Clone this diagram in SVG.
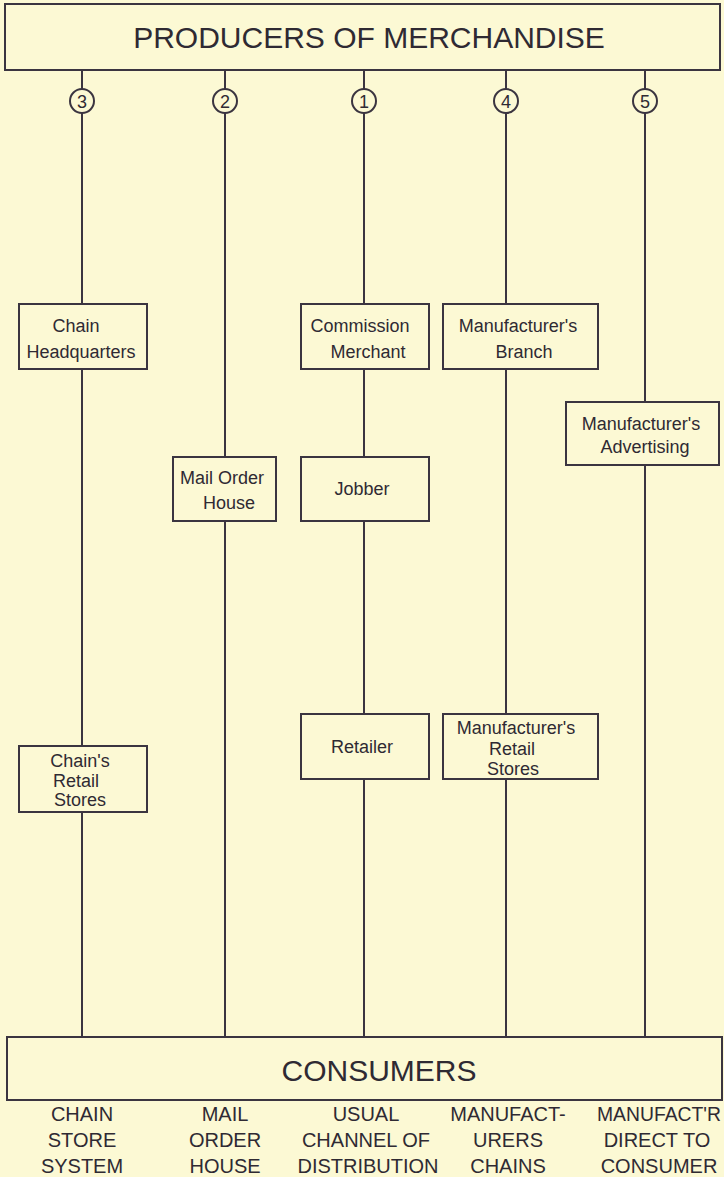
<svg xmlns="http://www.w3.org/2000/svg" width="724" height="1177" viewBox="0 0 724 1177">
<style>
.bg{fill:#fcf9d4}
.box{fill:#fcf9d4;stroke:#3b3540;stroke-width:2}
.ln{stroke:#3b3540;stroke-width:2;fill:none}
.t{font-family:"Liberation Sans",Arial,sans-serif;fill:#2f2a33;text-anchor:middle}
.bt{font-size:18px}
.big{font-size:30px}
.lab{font-size:20px}
.num{font-size:18px}
</style>
<rect class="bg" x="0" y="0" width="724" height="1177"/>
<g id="producers">
<rect class="box" x="5" y="4" width="715" height="66"/>
<text class="t big" x="369" y="48">PRODUCERS OF MERCHANDISE</text>
</g>
<g id="consumers">
<rect class="box" x="7" y="1037" width="715" height="63"/>
<text class="t big" x="379" y="1081">CONSUMERS</text>
</g>
<g id="connectors">
<path class="ln" d="M82 70V89M82 113V304M82 369V746M82 812V1037"/>
<path class="ln" d="M225 70V89M225 113V457M225 521V1037"/>
<path class="ln" d="M364 70V89M364 113V304M364 369V457M364 521V714M364 779V1037"/>
<path class="ln" d="M506 70V89M506 113V304M506 369V714M506 779V1037"/>
<path class="ln" d="M645 70V89M645 113V402M645 465V1037"/>
</g>
<g id="n3"><circle class="box" cx="82" cy="101" r="12"/><text class="t num" x="82" y="107.5">3</text></g>
<g id="n2"><circle class="box" cx="225" cy="101" r="12"/><text class="t num" x="225" y="107.5">2</text></g>
<g id="n1"><circle class="box" cx="364" cy="101" r="12"/><text class="t num" x="364" y="107.5">1</text></g>
<g id="n4"><circle class="box" cx="506" cy="101" r="12"/><text class="t num" x="506" y="107.5">4</text></g>
<g id="n5"><circle class="box" cx="645" cy="101" r="12"/><text class="t num" x="645" y="107.5">5</text></g>
<g id="chain-hq"><rect class="box" x="19" y="304" width="128" height="65"/>
<text class="t bt" x="76" y="332">Chain</text><text class="t bt" x="81" y="358">Headquarters</text></g>
<g id="commission"><rect class="box" x="301" y="304" width="128" height="65"/>
<text class="t bt" x="360" y="332">Commission</text><text class="t bt" x="368" y="358">Merchant</text></g>
<g id="mfr-branch"><rect class="box" x="443" y="304" width="155" height="65"/>
<text class="t bt" x="518" y="332">Manufacturer's</text><text class="t bt" x="524" y="358">Branch</text></g>
<g id="mfr-adv"><rect class="box" x="566" y="402" width="153" height="63"/>
<text class="t bt" x="641" y="430">Manufacturer's</text><text class="t bt" x="645" y="453">Advertising</text></g>
<g id="mail-order"><rect class="box" x="173" y="457" width="103" height="64"/>
<text class="t bt" x="222" y="484">Mail Order</text><text class="t bt" x="229" y="509">House</text></g>
<g id="jobber"><rect class="box" x="301" y="457" width="128" height="64"/>
<text class="t bt" x="362" y="495">Jobber</text></g>
<g id="retailer"><rect class="box" x="301" y="714" width="128" height="65"/>
<text class="t bt" x="362" y="753">Retailer</text></g>
<g id="mfr-retail"><rect class="box" x="443" y="714" width="155" height="65"/>
<text class="t bt" x="516" y="734">Manufacturer's</text><text class="t bt" x="512" y="755">Retail</text><text class="t bt" x="513" y="775">Stores</text></g>
<g id="chain-retail"><rect class="box" x="19" y="746" width="128" height="66"/>
<text class="t bt" x="80" y="767">Chain's</text><text class="t bt" x="76" y="787">Retail</text><text class="t bt" x="80" y="806">Stores</text></g>
<g id="labels">
<text class="t lab" x="82" y="1121">CHAIN</text><text class="t lab" x="82" y="1147">STORE</text><text class="t lab" x="82" y="1173">SYSTEM</text>
<text class="t lab" x="225" y="1121">MAIL</text><text class="t lab" x="225" y="1147">ORDER</text><text class="t lab" x="225" y="1173">HOUSE</text>
<text class="t lab" x="366" y="1121">USUAL</text><text class="t lab" x="366" y="1147">CHANNEL OF</text><text class="t lab" x="368" y="1173">DISTRIBUTION</text>
<text class="t lab" x="508" y="1121">MANUFACT-</text><text class="t lab" x="508" y="1147">URERS</text><text class="t lab" x="508" y="1173">CHAINS</text>
<text class="t lab" x="659" y="1121" textLength="124" lengthAdjust="spacingAndGlyphs">MANUFACT'R</text><text class="t lab" x="657" y="1147">DIRECT TO</text><text class="t lab" x="659" y="1173">CONSUMER</text>
</g>
</svg>
